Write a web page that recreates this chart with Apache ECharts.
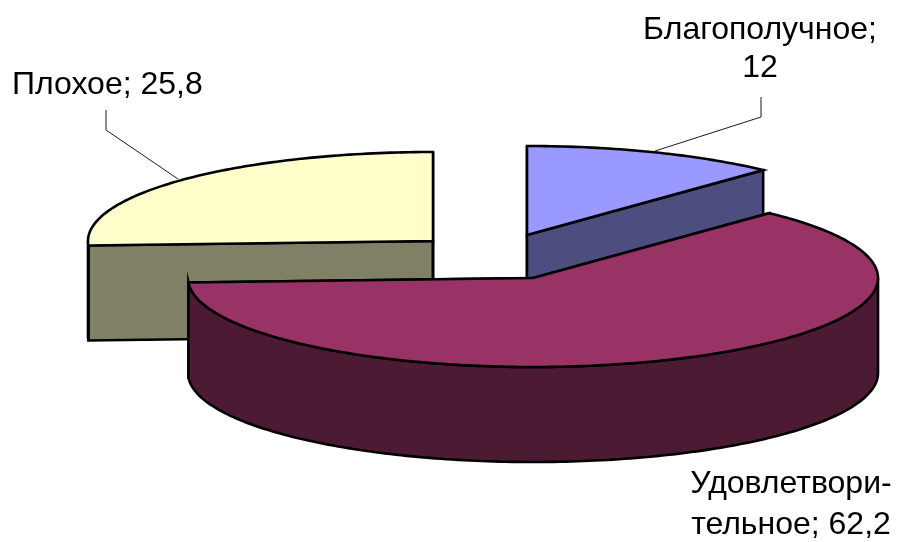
<!DOCTYPE html>
<html>
<head>
<meta charset="utf-8">
<style>html,body{margin:0;padding:0;background:#fff}#chart{width:899px;height:542px}</style>
<script src="https://cdn.jsdelivr.net/npm/echarts@6/dist/echarts.min.js"></script>
</head>
<body>
<div id="chart"></div>
<script>
var categories = ['Благополучное', 'Удовлетворительное', 'Плохое'];
var values = [12, 62.2, 25.8];
var labelLines = [['Благополучное;', '12'], ['Удовлетвори-', 'тельное; 62,2'], ['Плохое; 25,8']];

var topColors = ['#9999FF', '#993366', '#FFFFCC'];
var wallColors = ['#4D4D80', '#4D1A33', '#808066'];

// Presentation: projected ellipse of the 3D pie, explosion centres, stacking and label placement
var RX = 345, RY = 89, DEPTH = 95;
var centers = [[527, 235], [533, 278], [433, 241]];
var stack = [20, 30, 10];
var labelPos = [
  {x: 760, y: 30, align: 'center', gap: 38},
  {x: 791, y: 484, align: 'center', gap: 41},
  {x: 12, y: 85, align: 'left', gap: 38}
];
var leaders = [
  [[761, 97], [761, 117], [655, 151]],
  null,
  [[106, 110], [106, 130], [178, 179]]
];
var FONT = '32px "Liberation Sans", Arial, sans-serif';

function rad(a) { return a * Math.PI / 180; }

function renderSlice(params, api) {
  var i = params.dataIndex;
  var total = values.reduce(function (s, v) { return s + v; }, 0);
  var before = values.slice(0, i).reduce(function (s, v) { return s + v; }, 0);
  var a0 = before / total * 360;
  var a1 = (before + api.value(0)) / total * 360;
  var c = centers[i];
  var z = stack[i];

  function pt(a, d) {
    return [c[0] + RX * Math.sin(rad(a)), c[1] - RY * Math.cos(rad(a)) + (d || 0)];
  }
  function arc(from, to, d) {
    var pts = [], n = Math.max(2, Math.ceil(Math.abs(to - from)));
    for (var k = 0; k <= n; k++) pts.push(pt(from + (to - from) * k / n, d));
    return pts;
  }
  function poly(points, fill, z2) {
    return {
      type: 'polygon',
      z2: z2,
      shape: {points: points},
      style: {fill: fill, stroke: '#000', lineWidth: 2.6, lineJoin: 'miter'}
    };
  }

  var children = [];
  var apexBottom = [c[0], c[1] + DEPTH];
  [a0, a1].forEach(function (a) {
    children.push(poly([c, pt(a), pt(a, DEPTH), apexBottom], wallColors[i], z));
  });
  var w0 = Math.max(a0, 90), w1 = Math.min(a1, 270);
  if (w1 > w0) {
    children.push(poly(arc(w0, w1, 0).concat(arc(w1, w0, DEPTH)), wallColors[i], z + 1));
  }
  children.push(poly([c].concat(arc(a0, a1, 0)), topColors[i], z + 2));

  if (leaders[i]) {
    children.push({
      type: 'polyline',
      z2: 50,
      shape: {points: leaders[i]},
      style: {fill: null, stroke: '#1a1a1a', lineWidth: 1}
    });
  }
  var lp = labelPos[i];
  labelLines[i].forEach(function (line, k) {
    children.push({
      type: 'text',
      z2: 60,
      style: {
        text: line, x: lp.x, y: lp.y + k * lp.gap,
        align: lp.align, verticalAlign: 'middle',
        font: FONT, fill: '#000'
      }
    });
  });
  return {type: 'group', children: children};
}

var chart = echarts.init(document.getElementById('chart'), null, {renderer: 'canvas'});
chart.setOption({
  animation: false,
  backgroundColor: '#fff',
  series: [{
    type: 'custom',
    coordinateSystem: 'none',
    clip: false,
    silent: true,
    renderItem: renderSlice,
    data: values.map(function (v, i) { return {name: categories[i], value: [v]}; })
  }]
});
</script>
</body>
</html>
